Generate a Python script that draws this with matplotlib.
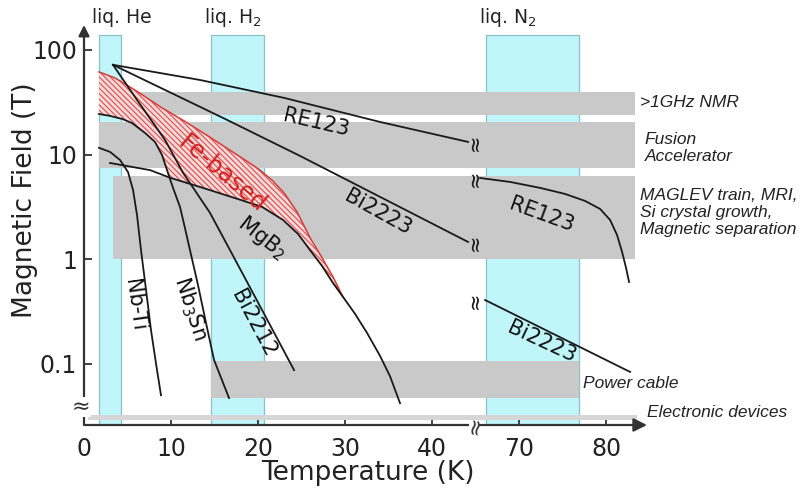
import numpy as np
import matplotlib
matplotlib.use('Agg')
import matplotlib.pyplot as plt
from matplotlib.ticker import NullLocator

plt.rcParams['font.family'] = ['DejaVu Sans']
plt.rcParams['hatch.linewidth'] = 0.8

# ---------------- data ----------------
# broken temperature axis: 45 K .. 65 K is cut out
T_BREAK_LO, T_BREAK_HI = 45, 65

cryo_names = ['liq. He', 'liq. H$_2$', 'liq. N$_2$']
cryo_T = [(1.7, 4.2), (14.6, 20.7), (66.2, 76.9)]
cryo_top = 139

app_names = ['>1GHz NMR', 'Fusion\nAccelerator',
             'MAGLEV train, MRI,\nSi crystal growth,\nMagnetic separation',
             'Power cable', 'Electronic devices']
app_T = [(1.7, 83.3), (1.7, 83.3), (3.3, 83.3), (14.6, 76.9), (0.5, 83.5)]
app_B = [(23.9, 39.6), (7.45, 20.5), (1.0, 6.2), (0.047, 0.107), (0.0292, 0.0325)]

nbti_T = [1.72, 2.99, 4.14, 5.06, 5.63, 6.09, 6.55, 7.13, 7.70, 8.28, 8.85]
nbti_B = [11.6, 10.6, 8.87, 6.8, 4.6, 2.65, 1.22, 0.508, 0.21, 0.10, 0.050]

nb3sn_T = [1.72, 2.99, 4.37, 5.52, 7.01, 8.16, 8.97, 9.54, 10.23, 11.03, 11.6,
           12.18, 13.1, 13.9, 14.94, 16.67]
nb3sn_B = [24.4, 23.4, 21.9, 20.0, 16.1, 13.2, 9.9, 7.1, 4.8, 3.16, 1.99,
           1.22, 0.566, 0.274, 0.109, 0.047]

bi2212_T = [3.33, 6.09, 9.31, 11.38, 14.48, 16.78, 20.46, 24.14]
bi2212_B = [72, 33.3, 13.8, 6.7, 2.77, 1.22, 0.327, 0.087]

mgb2_T = [2.99, 7.59, 9.89, 13.33, 17.93, 20.46, 22.87, 24.6, 25.98, 27.36, 28.62,
          29.77, 31.15, 32.53, 34.02, 35.17, 36.32]
mgb2_B = [8.3, 7.1, 6.0, 4.9, 3.7, 3.16, 2.37, 1.74, 1.22, 0.86, 0.59,
          0.435, 0.30, 0.197, 0.119, 0.076, 0.042]

re123_lo_T = [3.33, 13.33, 22.99, 34.0, 44.14]
re123_lo_B = [72, 51.6, 34.8, 20.5, 13.2]
re123_hi_T = [65.52, 68.97, 72.41, 75.29, 77.59, 79.31, 80.46, 81.26, 81.84, 82.3, 82.64]
re123_hi_B = [5.97, 5.47, 4.80, 4.20, 3.60, 3.02, 2.37, 1.70, 1.17, 0.82, 0.605]

bi2223_lo_T = [3.33, 16.21, 24.83, 34.02, 44.14]
bi2223_lo_B = [72, 21.9, 9.7, 3.94, 1.46]
bi2223_hi_T = [66.09, 82.76]
bi2223_hi_B = [0.407, 0.0836]

fe_up_T = [1.72, 3.56, 6.21, 8.97, 11.49, 13.91, 16.21, 18.5, 20.23, 21.6, 22.99,
           24.48, 25.98, 27.36, 28.62, 29.77]
fe_up_B = [61.6, 54, 39.6, 27.9, 21, 15.7, 11.8, 8.87, 7.1, 5.7, 4.3,
           2.83, 1.6, 1.03, 0.676, 0.435]
fe_lo_T = [1.72, 2.99, 4.37, 5.52, 7.01, 8.16, 8.97, 9.54, 9.89, 13.33, 17.93, 20.46,
           22.87, 24.6, 25.98, 27.36, 28.62, 29.77]
fe_lo_B = [24.4, 23.4, 21.9, 20.0, 16.1, 13.2, 9.9, 7.1, 6.0, 4.9, 3.7, 3.16,
           2.37, 1.74, 1.22, 0.86, 0.59, 0.435]

xtick_vals = [0, 10, 20, 30, 40, 70, 80]
ytick_vals = [0.1, 1, 10, 100]


def tx(T):
    """map temperature to position on the broken axis"""
    T = np.asarray(T, dtype=float)
    return np.where(T <= T_BREAK_LO, T, T - (T_BREAK_HI - T_BREAK_LO))


# ---------------- figure ----------------
W, H = 806, 492
fig = plt.figure(figsize=(W / 100, H / 100), dpi=100)
ax = fig.add_axes([84 / W, 67 / H, (647 - 84) / W, (425 - 25) / H])
ax.set_yscale('log')
XMAX = 64.7
ax.set_xlim(0, XMAX)
ax.set_ylim(0.026, 173)

grey = '#c9c9c9'
cyan = '#c0f6f9'
tcol = '#222222'

# cryogen columns
for (t0, t1) in cryo_T:
    x0, x1 = tx([t0, t1])
    ax.fill_between([x0, x1], 0.026, cryo_top, facecolor=cyan,
                    edgecolor='#8cbfc6', linewidth=0.9, zorder=1)

# application bands
for i, ((t0, t1), (b0, b1)) in enumerate(zip(app_T, app_B)):
    x0, x1 = tx([t0, t1])
    col = '#d6d6d6' if i == 4 else grey
    ax.fill_between([x0, x1], b0, b1, facecolor=col, edgecolor='none', zorder=2)

# Fe-based region
fx = np.concatenate([tx(fe_up_T), tx(fe_lo_T)[::-1]])
fy = np.concatenate([fe_up_B, fe_lo_B[::-1]])
ax.fill(fx, fy, facecolor='#f6d8d8', edgecolor='#d9504f', hatch='\\\\\\\\\\\\',
        linewidth=0, zorder=3)
ax.plot(tx(fe_up_T), fe_up_B, color='#d63a3a', lw=1.1, zorder=4)

lc = '#1a1a1a'
lw = 1.3
for T, B in [(nbti_T, nbti_B), (nb3sn_T, nb3sn_B), (bi2212_T, bi2212_B),
             (mgb2_T, mgb2_B), (re123_lo_T, re123_lo_B), (re123_hi_T, re123_hi_B),
             (bi2223_lo_T, bi2223_lo_B), (bi2223_hi_T, bi2223_hi_B)]:
    ax.plot(tx(T), B, color=lc, lw=lw, zorder=5, solid_joinstyle='round')

# break marks on curves
xb = 44.9
for B in [re123_lo_B[-1], re123_hi_B[0], bi2223_lo_B[-1], bi2223_hi_B[0]]:
    ax.text(xb, B, '≈', rotation=90, ha='center', va='center', fontsize=15,
            color=lc, zorder=6)

# axes lines with arrows (x axis broken at the gap)
for s in ax.spines.values():
    s.set_visible(False)
acol = '#333333'
xt = ax.get_xaxis_transform()
ax.plot([0, xb - 0.6], [0, 0], color=acol, lw=1.6, transform=xt,
        clip_on=False, zorder=7, solid_capstyle='butt')
ax.annotate('', xy=(XMAX, 0), xytext=(xb + 0.6, 0), xycoords=xt,
            arrowprops=dict(arrowstyle='-|>', color=acol, lw=1.6, shrinkA=0,
                            shrinkB=0, mutation_scale=20), zorder=7)
ax.annotate('', xy=(0, 1), xytext=(0, 0), xycoords='axes fraction',
            arrowprops=dict(arrowstyle='-|>', color=acol, lw=1.6, shrinkA=0,
                            shrinkB=0, mutation_scale=16), zorder=7)
# axis break symbols
ax.text(xb, 0.026, '≈', rotation=80, ha='center', va='center', fontsize=16,
        color=acol, zorder=8, clip_on=False)
ax.text(-0.3, 0.0386, '≈', ha='center', va='center', fontsize=16,
        color=acol, zorder=8, clip_on=False,
        bbox=dict(fc='white', ec='none', pad=0.1))

# ticks
ax.set_xticks(tx(xtick_vals), labels=[str(v) for v in xtick_vals])
ax.set_yticks(ytick_vals, labels=['0.1', '1', '10', '100'])
ax.yaxis.set_minor_locator(NullLocator())
ax.tick_params(axis='both', direction='in', length=6, width=1.3, color=acol,
               labelsize=17, labelcolor=tcol)
ax.tick_params(axis='x', pad=9)
ax.tick_params(axis='y', pad=5)

fig.text(25 / W, 1 - 200 / H, 'Magnetic Field (T)', rotation=90, ha='center',
         va='center', fontsize=19, color=tcol)
fig.text(368 / W, 1 - 473 / H, 'Temperature (K)', ha='center', va='center',
         fontsize=19, color=tcol)

# cryogen labels
for name, (t0, t1) in zip(cryo_names, cryo_T):
    ax.text(tx(t0) - 0.8, 205, name, ha='left', va='center', fontsize=13.5,
            color=tcol, clip_on=False)

# application labels
app_pos = [(63.9, 31.1), (64.4, 11.6), (63.9, 2.8), (57.4, 0.0655), (64.7, 0.0339)]
for name, (x, y) in zip(app_names, app_pos):
    ax.text(x, y, name, ha='left', va='center', fontsize=12.5, style='italic',
            family=['Liberation Sans', 'DejaVu Sans'],
            color=tcol, clip_on=False, linespacing=1.15)

# curve labels
clab = [('RE123', 26.7, 20.0, -13), ('Bi2223', 33.8, 2.82, -29),
        ('RE123', 52.6, 2.65, -20), ('Bi2223', 52.6, 0.161, -25),
        ('MgB$_2$', 20.5, 1.6, -38), ('Nb-Ti', 5.86, 0.365, -82),
        ('Nb$_3$Sn', 12.2, 0.34, -72), ('Bi2212', 19.5, 0.245, -62)]
for s, x, y, r in clab:
    ax.text(x, y, s, ha='center', va='center', rotation=r, fontsize=15,
            color='#111111', zorder=9)
ax.text(15.9, 6.5, 'Fe-based', ha='center', va='center', rotation=-40,
        fontsize=17, color='#d42020', zorder=9)

fig.savefig('out.png', dpi=100)
